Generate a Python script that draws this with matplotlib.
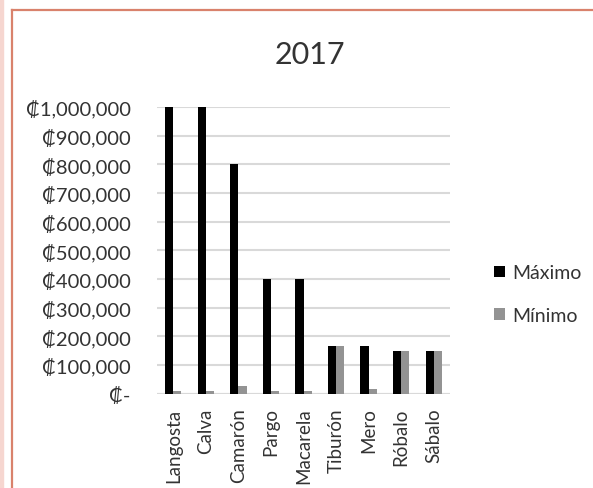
import matplotlib
matplotlib.use('Agg')
import matplotlib.pyplot as plt
from matplotlib.patches import Rectangle
from matplotlib.lines import Line2D
from matplotlib.ticker import FuncFormatter
import numpy as np

plt.rcParams['font.family'] = ['Lato', 'DejaVu Sans']

# datos 2017
especies = ['Langosta', 'Calva', 'Camarón', 'Pargo', 'Macarela',
            'Tiburón', 'Mero', 'Róbalo', 'Sábalo']
maximo = [1000000, 1000000, 800000, 400000, 400000, 165000, 165000, 150000, 150000]
minimo = [8000, 8000, 25000, 8000, 8000, 165000, 15000, 150000, 150000]
yticks = [0, 100000, 200000, 300000, 400000, 500000, 600000, 700000, 800000, 900000, 1000000]

W, H = 593, 489
fig = plt.figure(figsize=(W / 100, H / 100), dpi=100)

# borde del grafico (estilo excel)
fig.patches.append(Rectangle((0, 0), 3 / W, 1, transform=fig.transFigure,
                             color='#f6d6d0', zorder=0))
fig.lines.append(Line2D([11.5 / W, 11.5 / W], [0, 1 - 11 / H], transform=fig.transFigure,
                        color='#d9826c', lw=1.6))
fig.lines.append(Line2D([11.5 / W, 1], [1 - 11 / H, 1 - 11 / H], transform=fig.transFigure,
                        color='#d9826c', lw=1.6))

ax = fig.add_axes([157 / W, 1 - 394.5 / H, (450 - 157) / W, (394.5 - 108) / H])

x = np.arange(len(especies))
w = 0.25
ax.bar(x - w / 2, maximo, w, color='black', label='Máximo', zorder=3)
ax.bar(x + w / 2, minimo, w, color='#939393', label='Mínimo', zorder=3)

ax.set_xlim(-0.5, len(especies) - 0.5)
ax.set_ylim(0, 1000000)
ax.set_yticks(yticks)
ax.yaxis.set_major_formatter(FuncFormatter(lambda v, p: '₡-' if v == 0 else f'₡{int(v):,}'))
ax.grid(axis='y', color='#d9d9d9', lw=1.5, zorder=0)
ax.set_axisbelow(True)
for s in ax.spines.values():
    s.set_visible(False)
ax.tick_params(axis='y', length=0, pad=19, labelsize=14.5, labelcolor='#333333')
ax.set_xticks(x)
ax.set_xticklabels(especies, rotation=90, va='top', ha='center')
ax.tick_params(axis='x', length=0, pad=10, labelsize=13.5, labelcolor='#333333')
ax.axhline(0, color='#d9d9d9', lw=1.5, zorder=2)

fig.text(310 / W, 1 - 55 / H, '2017', ha='center', va='center', fontsize=22, color='#333333')

fig.legend(loc='center left', bbox_to_anchor=(494 / W, 1 - 295 / H), frameon=False,
           fontsize=14, handlelength=0.55, handleheight=0.55, handletextpad=0.4,
           labelspacing=1.3, borderaxespad=0, borderpad=0, labelcolor='#333333')

fig.savefig('out.png', dpi=100)
